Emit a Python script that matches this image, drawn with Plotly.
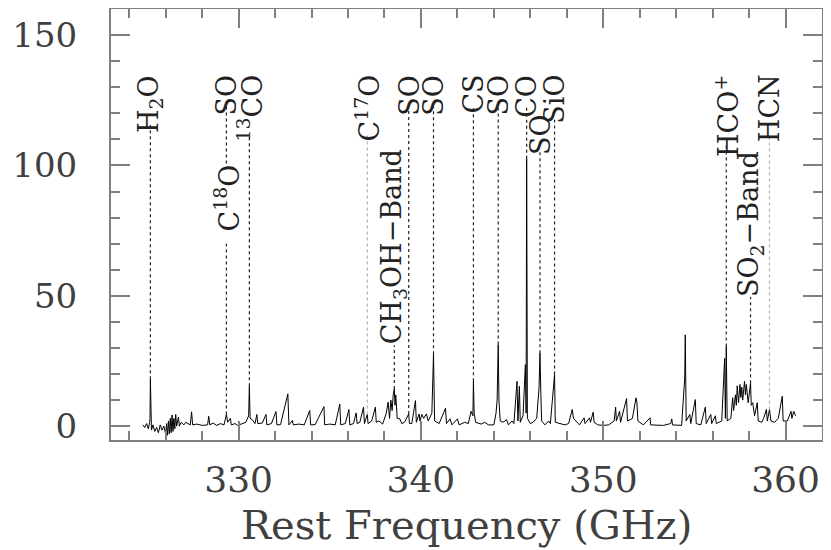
import plotly.graph_objects as go

# spectrum (rest frequency in GHz, intensity)
freq_ghz = [
    324.75, 324.85, 324.95, 325.05, 325.12, 325.14, 325.16, 325.18, 325.22, 325.30,
    325.40, 325.50, 325.60, 325.70, 325.80, 325.90, 326.00, 326.05, 326.10, 326.15,
    326.20, 326.25, 326.30, 326.35, 326.40, 326.45, 326.50, 326.55, 326.60, 326.70,
    326.75, 326.85, 327.00, 327.10, 327.35, 327.42, 327.48, 327.70, 328.00, 328.30,
    328.36, 328.42, 328.60, 328.80, 329.00, 329.20, 329.33, 329.40, 329.55, 329.60,
    329.80, 329.95, 330.20, 330.40, 330.55, 330.59, 330.63, 330.75, 330.90, 331.00,
    331.05, 331.30, 331.50, 331.55, 331.80, 332.05, 332.10, 332.30, 332.70, 332.76,
    332.95, 333.00, 333.30, 333.60, 333.90, 333.95, 334.20, 334.68, 334.72, 335.00,
    335.30, 335.55, 335.60, 335.85, 336.05, 336.10, 336.30, 336.45, 336.50, 336.65,
    336.85, 336.90, 337.06, 337.10, 337.30, 337.50, 337.55, 337.70, 337.90, 338.10,
    338.20, 338.28, 338.35, 338.42, 338.48, 338.54, 338.58, 338.62, 338.70, 338.85,
    338.95, 339.10, 339.33, 339.37, 339.50, 339.70, 339.75, 339.90, 339.95, 340.05,
    340.15, 340.30, 340.40, 340.60, 340.69, 340.75, 341.00, 341.35, 341.40, 341.60,
    341.70, 342.00, 342.10, 342.40, 342.60, 342.75, 342.85, 342.88, 342.92, 343.00,
    343.30, 343.50, 343.70, 344.00, 344.12, 344.18, 344.24, 344.28, 344.35, 344.50,
    344.70, 344.80, 345.00, 345.10, 345.27, 345.32, 345.40, 345.45, 345.60, 345.73,
    345.77, 345.80, 345.84, 346.00, 346.15, 346.35, 346.48, 346.53, 346.58, 346.62,
    346.80, 347.00, 347.10, 347.33, 347.37, 347.60, 347.90, 348.10, 348.30, 348.37,
    348.50, 348.70, 348.95, 349.00, 349.25, 349.30, 349.45, 349.50, 349.70, 350.00,
    350.30, 350.60, 350.68, 350.72, 350.90, 350.95, 351.28, 351.33, 351.60, 351.80,
    351.85, 351.90, 352.20, 352.57, 352.60, 352.90, 353.30, 353.70, 353.76, 353.80,
    354.10, 354.30, 354.47, 354.50, 354.55, 354.75, 354.80, 355.05, 355.10, 355.35,
    355.60, 355.65, 355.90, 355.95, 356.15, 356.20, 356.50, 356.66, 356.70, 356.75,
    356.80, 357.00, 357.10, 357.15, 357.25, 357.30, 357.35, 357.42, 357.50, 357.55,
    357.60, 357.65, 357.75, 357.80, 357.85, 357.95, 358.08, 358.12, 358.20, 358.30,
    358.45, 358.50, 358.70, 358.80, 358.95, 359.00, 359.12, 359.20, 359.40, 359.60,
    359.82, 359.87, 360.10, 360.30, 360.35, 360.45, 360.55,
]
intensity = [
    0.5, -0.5, 1.0, -1.0, 1.5, 3.0, 18.0, 2.0, -1.5, 0.5,
    -2.0, -0.5, -2.5, 0.5, -1.5, 0.0, -3.0, 1.0, -3.5, 2.0,
    -3.0, 3.0, -2.5, 4.3, -2.0, 3.0, -1.0, 4.5, 0.0, 3.5,
    0.0, 1.5, 0.5, 1.5, 0.5, 5.5, 0.5, 0.8, 0.3, 0.5,
    3.8, 0.5, 1.2, 0.3, 1.0, 0.5, 4.5, 1.5, 3.0, 0.5,
    1.0, 0.3, 1.0, 1.5, 4.0, 15.3, 3.0, 2.5, 1.0, 4.5,
    1.0, 1.2, 4.5, 0.5, 1.0, 5.6, 0.5, 0.6, 12.4, 0.5,
    2.2, 0.5, 0.8, 0.5, 6.0, 0.5, 0.6, 7.5, 0.5, 0.8,
    0.5, 8.5, 0.5, 1.0, 6.4, 0.5, 1.0, 5.1, 1.0, 1.5,
    7.3, 1.0, 4.5, 1.0, 2.0, 7.3, 1.5, 2.0, 0.8, 5.0,
    9.2, 3.0, 10.0, 6.0, 12.0, 14.3, 8.0, 12.0, 3.0, 2.8,
    1.0, 1.5, 4.7, 1.0, 1.0, 9.8, 1.5, 4.7, 2.0, 4.5,
    3.0, 4.7, 2.0, 5.0, 27.6, 2.0, 1.0, 6.9, 1.0, 2.8,
    0.5, 2.8, 0.5, 1.5, 1.0, 5.7, 4.0, 17.2, 5.0, 1.5,
    0.8, 1.5, 0.5, 0.5, 5.0, 10.0, 31.3, 10.0, 2.0, 1.5,
    2.5, 0.5, 2.0, 1.0, 17.2, 2.0, 15.3, 1.5, 4.0, 23.6,
    5.0, 102.6, 3.0, 1.0, 1.5, 3.0, 14.7, 28.0, 12.0, 2.0,
    0.5, 2.0, 1.0, 19.8, 1.5, 1.0, 0.5, 1.0, 6.4, 3.0,
    2.0, 0.5, 3.2, 1.0, 3.2, 1.5, 5.4, 1.5, 0.5, 0.3,
    0.5, 2.0, 7.3, 2.0, 5.7, 1.5, 10.6, 2.0, 3.0, 10.9,
    9.0, 2.0, 0.5, 3.2, 0.5, 0.3, 0.3, 1.0, 2.8, 0.5,
    0.5, 0.3, 18.5, 35.0, 2.0, 4.5, 1.0, 10.2, 1.0, 0.5,
    7.3, 1.0, 4.5, 1.0, 4.0, 1.0, 2.0, 26.0, 3.0, 30.6,
    2.0, 3.0, 10.9, 6.0, 12.0, 8.0, 15.5, 9.0, 16.0, 11.0,
    15.0, 10.0, 17.2, 12.0, 16.0, 9.0, 16.5, 8.0, 9.0, 4.0,
    9.0, 2.0, 1.5, 3.0, 6.4, 2.0, 6.4, 2.0, 1.5, 3.0,
    11.5, 2.0, 2.0, 5.7, 3.0, 5.7, 4.0,
]

# line identifications
line_names = ["H<sub>2</sub>O", "C<sup>18</sup>O", "SO", "<sup>13</sup>CO", "C<sup>17</sup>O",
              "CH<sub>3</sub>OH\u2212Band", "SO", "SO", "CS", "SO", "CO", "SO", "SiO",
              "HCO<sup>+</sup>", "SO<sub>2</sub>\u2212Band", "HCN"]
line_freq = [325.16, 329.33, 329.33, 330.59, 337.06, 338.54, 339.33, 340.69, 342.88,
             344.24, 345.80, 346.53, 347.33, 356.75, 358.08, 359.12]
label_top = [135.2, 100.7, 135.2, 135.2, 135.2, 106.5, 135.2, 135.2, 135.2,
             135.2, 135.2, 120.3, 135.2, 135.2, 105.7, 135.2]
label_base = [115.5, 70.0, 123.0, 112.0, 112.0, 31.0, 122.5, 122.5, 122.5,
              122.5, 122.5, 106.0, 117.5, 108.5, 49.5, 111.5]
line_end = [18.0, 4.5, 100.7, 15.3, 4.5, 14.3, 4.7, 27.6, 17.2,
            31.3, 102.6, 28.0, 19.8, 30.6, 16.5, 6.4]
faint = [False, False, False, False, True, False, False, False, False,
         False, False, False, False, False, False, True]

FONT = "DejaVu Serif"
fig = go.Figure()

fig.add_trace(go.Scatter(x=freq_ghz, y=intensity, mode="lines",
                         line=dict(color="black", width=1), showlegend=False))

# dotted markers from label to line
for light in (False, True):
    xs, ys = [], []
    for f, b, e, fl in zip(line_freq, label_base, line_end, faint):
        if fl == light:
            xs += [f, f, None]
            ys += [e, b, None]
    fig.add_trace(go.Scatter(x=xs, y=ys, mode="lines", showlegend=False,
                             line=dict(color="#b0b0b0" if light else "#222222",
                                       width=1.2, dash="dot")))

for name, f, top in zip(line_names, line_freq, label_top):
    fig.add_annotation(x=f, y=top, text=name, textangle=-90, showarrow=False,
                       xanchor="center", yanchor="top", borderpad=0,
                       font=dict(family=FONT, size=27, color="#222222"))

fig.add_annotation(x=0.5, y=-0.197, xref="paper", yref="paper", showarrow=False,
                   text="Rest Frequency (GHz)", xanchor="center", yanchor="middle",
                   font=dict(family=FONT, size=40, color="#404040"))

axis_style = dict(showline=True, linecolor="#808080", linewidth=2, mirror="ticks",
                  ticks="inside", tickcolor="#808080", tickwidth=1.5, ticklen=19,
                  showgrid=False, zeroline=False, automargin=False)

fig.update_xaxes(range=[323, 362], tickvals=[330, 340, 350, 360], ticklabelstandoff=7,
                 tickfont=dict(family=FONT, size=36, color="#404040"),
                 minor=dict(dtick=2, tick0=0, ticks="inside", ticklen=9,
                            tickcolor="#808080", tickwidth=1.5, showgrid=False),
                 **axis_style)
fig.update_yaxes(range=[-5.3, 160], tickvals=[0, 50, 100, 150], ticklabelstandoff=25,
                 tickfont=dict(family=FONT, size=34, color="#404040"),
                 minor=dict(dtick=10, tick0=0, ticks="inside", ticklen=9,
                            tickcolor="#808080", tickwidth=1.5, showgrid=False),
                 **axis_style)

# page body adds an 8 px margin, so the figure is shifted to line up with the window
fig.update_layout(width=815, height=542, margin=dict(l=103, r=1, t=1, b=110),
                  plot_bgcolor="white", paper_bgcolor="white")

fig.write_html("out.html")
